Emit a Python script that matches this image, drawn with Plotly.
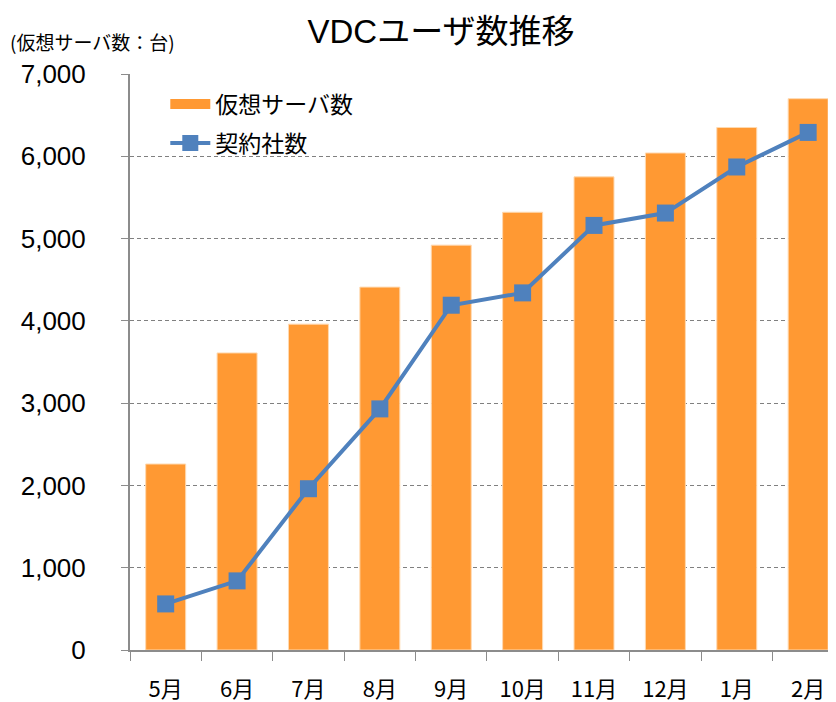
import plotly.graph_objects as go

months = ["5月", "6月", "7月", "8月", "9月", "10月", "11月", "12月", "1月", "2月"]
virtual_servers = [2260, 3610, 3960, 4410, 4920, 5320, 5750, 6040, 6350, 6700]
contracts = [560, 840, 1960, 2930, 4190, 4340, 5160, 5310, 5870, 6290]
y_ticks = [0, 1000, 2000, 3000, 4000, 5000, 6000, 7000]

JP = "Noto Sans CJK JP"
ORANGE = "#FF9933"
BLUE = "#4F81BD"

fig = go.Figure()
fig.add_trace(go.Bar(
    x=months, y=virtual_servers, name="仮想サーバ数", showlegend=False,
    marker=dict(color=ORANGE, line=dict(color="#FFD9B0", width=1)),
    width=0.56,
))
# legend entry for the bars (wide orange block like the original)
fig.add_trace(go.Scatter(
    x=[None], y=[None], name="仮想サーバ数", mode="lines", legendgroup="a",
    line=dict(color=ORANGE, width=18),
))
fig.add_trace(go.Scatter(
    x=months, y=contracts, name="契約社数", mode="lines+markers", legendgroup="b",
    line=dict(color=BLUE, width=4),
    marker=dict(symbol="square", size=17, color=BLUE),
))

# page body has an 8px margin, margins below compensate for it
fig.update_layout(
    width=836, height=702,
    margin=dict(l=122, r=8, t=66, b=60),
    paper_bgcolor="white", plot_bgcolor="white",
    title=dict(text="VDCユーザ数推移", x=433 / 836, xanchor="center",
               y=1 - 23 / 702, yanchor="middle",
               font=dict(family="Liberation Sans, " + JP, size=33, color="black")),
    showlegend=True,
    legend=dict(x=0.05, y=0.985, xanchor="left", yanchor="top",
                bgcolor="rgba(0,0,0,0)", font=dict(family=JP, size=23, color="black"),
                itemwidth=40, tracegroupgap=6),
    font=dict(family=JP, color="black"),
)

fig.update_xaxes(
    range=[-0.5, 9.39], showgrid=False,
    showline=True, linecolor="#8C8C8C", linewidth=2,
    ticks="outside", tickson="boundaries", ticklen=9, tickcolor="#8C8C8C",
    tickfont=dict(family=JP, size=22, color="black"), ticklabelstandoff=19,
)
fig.update_yaxes(
    range=[0, 7000], tickvals=y_ticks, tickformat=",",
    showgrid=True, gridcolor="#808080", griddash="4px,3px", gridwidth=1.3,
    showline=True, linecolor="#8C8C8C", linewidth=2,
    ticks="outside", ticklen=7, tickcolor="#8C8C8C",
    tickfont=dict(family="Liberation Sans", size=26, color="black"),
    ticklabelstandoff=30, zeroline=False,
)

fig.add_annotation(
    text="(仮想サーバ数：台)", xref="paper", yref="paper",
    x=-122 / 706, y=1 + 32 / 576, xanchor="left", yanchor="middle",
    showarrow=False, font=dict(family=JP, size=19, color="black"),
)

fig.write_html("out.html")
